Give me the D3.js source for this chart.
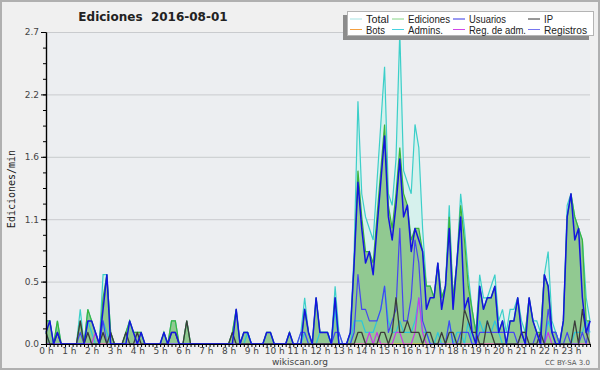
<!DOCTYPE html>
<html><head><meta charset="utf-8">
<script src="https://cdn.jsdelivr.net/npm/d3@7/dist/d3.min.js"></script>
<style>
body{margin:0;background:#f0f0f0;}
svg{display:block;}
text{font-family:'DejaVu Sans',sans-serif;}
</style></head><body>
<svg id="c" width="600" height="370"></svg>
<script>
// ---------- data (10-minute buckets, edits per minute) ----------
const chartTitle = "Ediciones  2016-08-01";
const yTitle = "Ediciones/min";
const footer = "wikiscan.org";
const license = "CC BY-SA 3.0";
const hourLabels = ["0 h","1 h","2 h","3 h","4 h","5 h","6 h","7 h","8 h","9 h","10 h","11 h","12 h","13 h","14 h","15 h","16 h","17 h","18 h","19 h","20 h","21 h","22 h","23 h"];
const yMajorTicks = [0, 0.54, 1.08, 1.62, 2.16, 2.7];
const yMajorLabels = ["0.0","0.5","1.1","1.6","2.2","2.7"];
const legendNames = ["Total","Ediciones","Usuarios","IP","Bots","Admins.","Reg. de adm.","Registros"];

const total = [
.2,.2,0,.2,0,0,0,0,0,.3,0,.3,
.2,.1,0,.6,.6,.1,0,0,0,.1,.2,.1,
.1,.1,0,0,0,0,0,.1,0,.2,.2,0,
0,.2,0,0,0,0,0,0,0,0,0,0,
0,.1,.3,0,.1,.1,0,0,0,0,.1,.1,
0,0,0,0,.1,0,0,.1,.4,.1,0,.4,
.1,.1,.1,0,.5,.1,0,0,.1,.8,2.1,1.3,
1.1,1.0,.9,1.4,1.9,2.4,1.3,1.2,1.6,2.7,1.5,1.4,
1.3,1.9,1.7,1.0,.5,.5,.4,.7,.4,.5,1.2,.4,
.7,1.3,1.0,.6,.3,.1,.6,.4,.4,.5,.6,.2,
.3,.1,.3,.3,.4,.2,.1,.4,.2,.2,.1,.6,
.8,.2,.1,0,.2,1.2,1.3,1.1,1.0,.9,.4,.2];
const ediciones = [
.2,.2,0,.2,0,0,0,0,0,.2,0,.3,
.2,.1,0,.4,.6,.1,0,0,0,.1,.2,.1,
.1,.1,0,0,0,0,0,.1,0,.2,.2,0,
0,.2,0,0,0,0,0,0,0,0,0,0,
0,.1,.3,0,.1,.1,0,0,0,0,.1,.1,
0,0,0,0,.1,0,0,0,.3,.1,0,.4,
.1,.1,.1,0,.4,0,0,0,.1,.7,1.5,1.1,
.8,.8,.7,1.1,1.5,1.9,1.2,1.0,1.3,1.7,1.3,1.2,
.9,1.0,1.0,.8,.5,.5,.4,.7,.4,.5,1.1,.4,
.7,1.2,.9,.5,.3,.1,.5,.3,.4,.4,.5,.1,
.2,0,.2,.2,.4,.1,.1,.4,.2,.1,.1,.6,
.5,.1,.1,0,.2,1.1,1.3,1.1,1.0,.9,.2,.2];
const usuarios = [
.1,.2,0,.1,0,0,0,0,0,0,0,.2,
.2,.1,0,.3,.6,0,0,0,0,0,.2,.1,
0,.1,0,0,0,0,0,.1,0,.1,.1,0,
0,0,0,0,0,0,0,0,0,0,0,0,
0,0,.3,0,.1,.1,0,0,0,0,.1,.1,
0,0,0,0,.1,0,0,0,.3,.1,0,.4,
.1,.1,.1,0,.4,0,0,0,.1,.7,1.4,1.0,
.7,.8,.6,1.0,1.4,1.8,1.1,.9,1.2,1.6,1.1,1.2,
.8,1.0,.9,.8,.3,.4,.4,.7,.3,.5,1.0,.3,
.7,1.1,.3,.4,.1,0,.5,.3,.4,.4,.5,.1,
.2,0,.2,.2,.4,.1,0,.4,.2,.1,0,.6,
.5,.1,0,0,.2,1.1,1.3,.9,1.0,.4,.1,.2];
const ip = [
.1,0,0,.1,0,0,0,0,0,.2,0,.1,
0,0,0,.1,0,.1,0,0,0,.1,0,0,
.1,0,0,0,0,0,0,0,0,.1,.1,0,
0,.2,0,0,0,0,0,0,0,0,0,0,
0,.1,0,0,0,0,0,0,0,0,0,0,
0,0,0,0,0,0,0,0,0,0,0,0,
0,0,0,0,0,0,0,0,0,0,.1,.1,
0,0,0,0,.1,.1,0,.1,.4,.1,.1,.2,
.1,.1,.1,0,.1,.1,0,0,.1,0,.1,.1,
0,0,.3,.2,.1,.1,0,0,.2,.1,0,0,
0,0,0,0,0,.1,.1,0,0,0,.1,0,
0,0,0,0,0,0,0,.2,0,.3,.1,0];
const bots = [
0,0,0,0,0,0,0,0,0,0,0,0,
0,0,0,0,0,0,0,0,0,0,0,0,
0,0,0,0,0,0,0,0,0,0,0,0,
0,0,0,0,0,0,0,0,0,0,0,0,
0,0,0,0,0,0,0,0,0,0,0,0,
0,0,0,0,0,0,0,0,0,0,0,0,
0,0,0,0,0,0,0,0,0,0,0,0,
0,0,0,0,0,0,0,0,0,0,0,0,
0,0,0,0,0,0,0,0,0,0,0,0,
0,0,0,0,0,0,0,0,0,0,0,0,
0,0,0,0,0,0,0,0,0,0,0,0,
0,0,0,0,0,0,0,0,0,0,0,0];
const admins = [
.1,0,0,0,0,0,0,0,0,0,0,.2,
.1,0,0,.2,.1,0,0,0,0,0,0,0,
0,0,0,0,0,0,0,0,0,0,0,0,
0,0,0,0,0,0,0,0,0,0,0,0,
0,0,0,0,0,.1,0,0,0,0,0,0,
0,0,0,0,0,0,0,0,.1,0,0,0,
.1,.1,.1,0,.3,0,0,0,0,.2,.2,.2,
.1,.1,.1,.2,.3,.5,.2,.1,.1,.2,.1,.1,
.1,.2,.4,.1,.1,0,0,.1,0,0,.2,0,
.1,.1,0,.2,0,0,.2,.1,.2,.1,.2,.1,
0,0,0,0,0,0,0,0,0,0,0,0,
.2,.1,.1,0,0,0,0,.1,.1,.1,.2,.1];
const regAdm = [
0,0,0,0,0,0,0,0,0,0,0,0,
0,.1,0,0,0,0,0,0,0,0,0,0,
0,0,0,0,0,0,0,0,0,0,0,0,
0,0,0,0,0,0,0,0,0,0,0,0,
0,0,0,0,0,0,0,0,0,0,0,0,
0,0,0,0,0,0,0,0,0,0,0,0,
0,0,0,0,0,0,0,0,0,0,0,0,
0,.1,0,.1,0,0,0,0,.1,.1,0,0,
0,.1,.4,.1,0,0,0,0,0,0,0,0,
0,0,0,0,0,0,0,0,0,0,0,0,
0,0,0,0,0,0,0,0,0,0,0,0,
.1,0,0,0,0,0,0,0,0,0,0,0];
const registros = [
0,0,0,0,0,0,0,0,0,.1,0,0,
0,0,0,.2,0,0,0,0,0,0,0,0,
0,0,0,0,0,0,0,0,0,0,0,0,
0,0,0,0,0,0,0,0,0,0,0,0,
0,0,0,0,0,0,0,0,0,0,0,0,
0,0,0,0,0,0,0,.1,.1,0,0,0,
0,0,0,0,.1,.1,0,0,0,.1,.6,.3,
.3,.2,.2,.2,.3,.5,.1,.2,.3,1.0,.2,.2,
.4,.9,.7,.2,.1,0,0,0,0,0,.2,0,
0,.1,.1,.1,0,0,.1,.1,.1,.1,.1,.1,
.1,.1,.1,.1,0,.1,0,0,0,.1,0,0,
.3,.1,.1,0,0,.1,0,0,0,.1,0,.2];

// ---------- drawing ----------
const svg = d3.select("#c");
const W = 600, H = 370;
const x0 = 46, x1 = 590, yTop = 32, yBot = 344;

svg.append("rect").attr("x",1).attr("y",1).attr("width",W-2).attr("height",H-2)
  .attr("fill","#f0f0f0").attr("stroke","#b0b0b0").attr("stroke-width",2);
svg.append("rect").attr("x",x0).attr("y",yTop).attr("width",x1-x0).attr("height",yBot-yTop)
  .attr("fill","#eceef1");

const x = d3.scaleLinear().domain([0, total.length-1]).range([x0, x1]);
const y = d3.scaleLinear().domain([0, 2.7]).range([yBot, yTop]);

// gridlines
svg.append("g").selectAll("line").data(yMajorTicks.slice(1)).join("line")
  .attr("x1",x0).attr("x2",x1).attr("y1",d=>y(d)+0.5).attr("y2",d=>y(d)+0.5)
  .attr("stroke","#c9cbce").attr("stroke-width",1);

const idx = d3.range(total.length);
const area = arr => d3.area().x(i=>x(i)).y0(y(0)).y1(i=>y(arr[i]));
const line = arr => d3.line().x(i=>x(i)).y(i=>y(arr[i]));

svg.append("path").datum(idx).attr("d",area(total)).attr("fill","#d6f1ed");
svg.append("path").datum(idx).attr("d",area(ediciones)).attr("fill","#91c991");
svg.append("path").datum(idx).attr("d",line(total)).attr("fill","none").attr("stroke","#3ccfc9").attr("stroke-width",1.2);
svg.append("path").datum(idx).attr("d",line(ediciones)).attr("fill","none").attr("stroke","#3cb43c").attr("stroke-width",1.2);
const lines = [
  [bots,"#f0a030",1.2],
  [admins,"#2cc6dc",1.2],
  [regAdm,"#c93ae6",1.2],
  [registros,"#4646f0",1.2],
  [ip,"#3c3c3c",1.3],
  [usuarios,"#1414e0",1.5]
];
lines.forEach(([arr,c,w]) => {
  svg.append("path").datum(idx).attr("d",line(arr)).attr("fill","none")
    .attr("stroke",c).attr("stroke-width",w).attr("stroke-linejoin","round");
});

// axes
const yMinor = svg.append("g").attr("transform",`translate(${x0},0)`)
  .call(d3.axisLeft(y).tickValues(d3.range(0,21).map(k=>k*0.135)).tickSize(3).tickFormat("").tickSizeOuter(0));
const yMaj = svg.append("g").attr("transform",`translate(${x0},0)`)
  .call(d3.axisLeft(y).tickValues(yMajorTicks).tickSize(5).tickPadding(2).tickSizeOuter(0)
    .tickFormat((d,i)=>yMajorLabels[i]));
const xAx = svg.append("g").attr("transform",`translate(0,${yBot})`)
  .call(d3.axisBottom(x).tickValues(idx).tickSize(3).tickPadding(1).tickSizeOuter(0)
    .tickFormat(i => i%6===0 ? hourLabels[i/6] : ""));
[yMinor,yMaj,xAx].forEach(g=>{
  g.selectAll("path.domain").attr("stroke","#000").attr("stroke-width",1.2);
  g.selectAll(".tick line").attr("stroke","#000");
  g.selectAll("text").attr("fill","#444").style("font-size","9px").style("font-family","'DejaVu Sans',sans-serif");
});

// titles
svg.append("text").attr("x",153).attr("y",21).attr("text-anchor","middle")
  .style("font-weight","bold").style("font-size","12px").style("white-space","pre")
  .attr("fill","#222").text(chartTitle);
svg.append("text").attr("transform","translate(15,189) rotate(-90)").attr("text-anchor","middle")
  .style("font-family","'DejaVu Sans Mono',monospace").style("font-size","10px").attr("fill","#222").text(yTitle);
svg.append("text").attr("x",300).attr("y",365).attr("text-anchor","middle")
  .style("font-size","9px").attr("fill","#444").text(footer);
svg.append("text").attr("x",590).attr("y",365).attr("text-anchor","end")
  .style("font-size","7px").attr("fill","#555").text(license);

// legend
const legColors = ["#a6e3e3","#86d486","#3434e6","#303030","#f4a040","#46d2e0","#d046e8","#7676f0"];
const lg = svg.append("g");
lg.append("rect").attr("x",343).attr("y",15).attr("width",246).attr("height",25).attr("fill","#8c8c8c");
lg.append("rect").attr("x",347.5).attr("y",11.5).attr("width",246).attr("height",24).attr("fill","#fff").attr("stroke","#b4b4b4");
const colX = [350, 392, 453, 528];
const textW = [23, 42, 37, 9, 19, 35, 57, 43];
legendNames.forEach((n,k)=>{
  const col = k%4, row = Math.floor(k/4);
  const ly = 19 + row*10.5;
  lg.append("line").attr("x1",colX[col]).attr("x2",colX[col]+12).attr("y1",ly).attr("y2",ly)
    .attr("stroke",legColors[k]).attr("stroke-width",1);
  lg.append("text").attr("x",colX[col]+16).attr("y",ly+4)
    .style("font-family","'Liberation Sans',Arial,sans-serif")
    .style("font-size","11px")
    .attr("textLength",textW[k]).attr("lengthAdjust","spacingAndGlyphs")
    .attr("fill","#222").text(n);
});
</script>
</body></html>
